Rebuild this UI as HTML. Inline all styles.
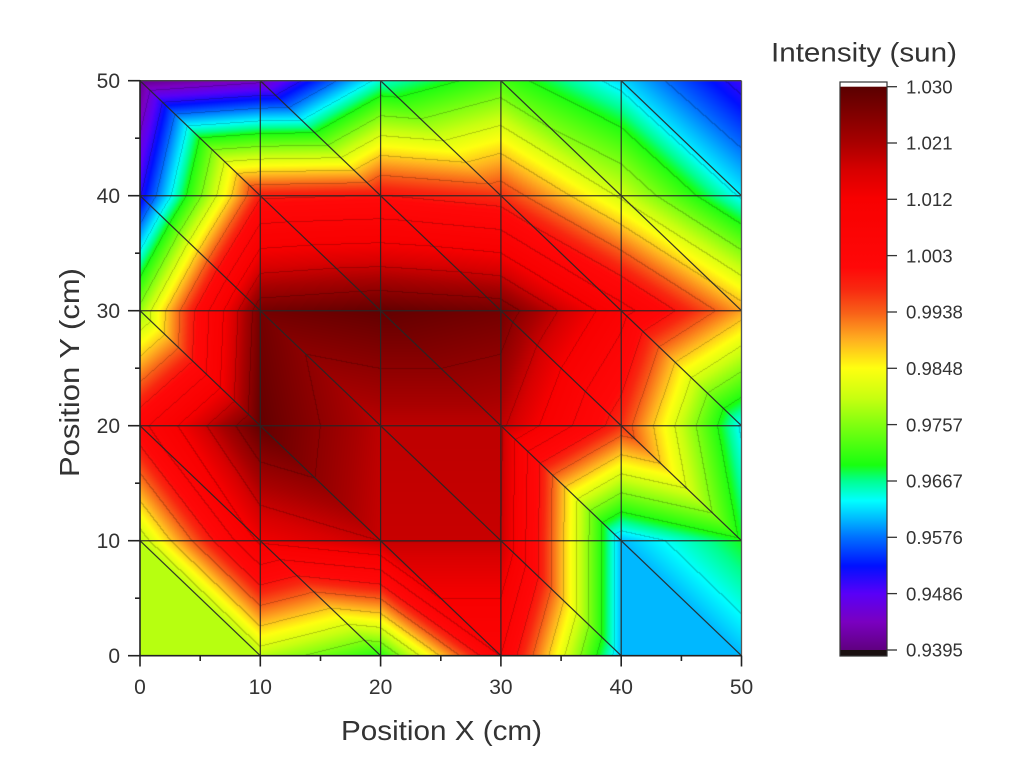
<!DOCTYPE html>
<html><head><meta charset="utf-8">
<style>
html,body{margin:0;padding:0;background:#fff;}
body{width:1010px;height:778px;position:relative;overflow:hidden;font-family:"Liberation Sans",Arial,sans-serif;}
#c{position:absolute;left:140px;top:81px;width:602px;height:575px;}
svg{position:absolute;left:0;top:0;}
text{font-family:"Liberation Sans",Arial,sans-serif;fill:#333;}
</style></head><body>
<canvas id="c" width="602" height="575"></canvas>
<svg width="1010" height="778" viewBox="0 0 1010 778" xmlns="http://www.w3.org/2000/svg">
<defs>
<linearGradient id="cb" x1="0" y1="0" x2="0" y2="1">
<stop offset="0" stop-color="#5a0000"/>
<stop offset="0.0994" stop-color="#a80000"/>
<stop offset="0.1492" stop-color="#d80000"/>
<stop offset="0.1989" stop-color="#f80000"/>
<stop offset="0.3204" stop-color="#ff0808"/>
<stop offset="0.3591" stop-color="#f82810"/>
<stop offset="0.4011" stop-color="#f86018"/>
<stop offset="0.4497" stop-color="#ffb020"/>
<stop offset="0.4994" stop-color="#ffff10"/>
<stop offset="0.5525" stop-color="#c8ff10"/>
<stop offset="0.6" stop-color="#80ff10"/>
<stop offset="0.6718" stop-color="#18ff10"/>
<stop offset="0.6994" stop-color="#00ff90"/>
<stop offset="0.7348" stop-color="#00ffff"/>
<stop offset="0.768" stop-color="#00b8ff"/>
<stop offset="0.8" stop-color="#0070ff"/>
<stop offset="0.8508" stop-color="#0010ff"/>
<stop offset="0.8994" stop-color="#5800f8"/>
<stop offset="0.9503" stop-color="#7a00c0"/>
<stop offset="1" stop-color="#600080"/>
</linearGradient>
</defs>

<!-- mesh lines -->
<g stroke="#262626" stroke-width="1.25" fill="none" opacity="0.9">
<line x1="260.3" y1="80.7" x2="260.3" y2="655.7"/>
<line x1="380.6" y1="80.7" x2="380.6" y2="655.7"/>
<line x1="500.9" y1="80.7" x2="500.9" y2="655.7"/>
<line x1="621.2" y1="80.7" x2="621.2" y2="655.7"/>
<line x1="140" y1="195.7" x2="741.5" y2="195.7"/>
<line x1="140" y1="310.7" x2="741.5" y2="310.7"/>
<line x1="140" y1="425.7" x2="741.5" y2="425.7"/>
<line x1="140" y1="540.7" x2="741.5" y2="540.7"/>
<line x1="140" y1="540.7" x2="260.3" y2="655.7"/>
<line x1="140" y1="425.7" x2="380.6" y2="655.7"/>
<line x1="140" y1="310.7" x2="500.9" y2="655.7"/>
<line x1="140" y1="195.7" x2="621.2" y2="655.7"/>
<line x1="140" y1="80.7" x2="741.5" y2="655.7"/>
<line x1="260.3" y1="80.7" x2="741.5" y2="540.7"/>
<line x1="380.6" y1="80.7" x2="741.5" y2="425.7"/>
<line x1="500.9" y1="80.7" x2="741.5" y2="310.7"/>
<line x1="621.2" y1="80.7" x2="741.5" y2="195.7"/>
</g>

<!-- frame -->
<line x1="140" y1="80.7" x2="741.5" y2="80.7" stroke="#444" stroke-width="1.3"/>
<line x1="741.5" y1="80.7" x2="741.5" y2="655.7" stroke="#555" stroke-width="1.3"/>
<g stroke="#222" stroke-width="1.6">
<line x1="140" y1="80" x2="140" y2="656.5"/>
<line x1="139.2" y1="655.7" x2="742" y2="655.7"/>
<line x1="140" y1="655.7" x2="140" y2="666.5"/>
<line x1="260.3" y1="655.7" x2="260.3" y2="666.5"/>
<line x1="380.6" y1="655.7" x2="380.6" y2="666.5"/>
<line x1="500.9" y1="655.7" x2="500.9" y2="666.5"/>
<line x1="621.2" y1="655.7" x2="621.2" y2="666.5"/>
<line x1="741.5" y1="655.7" x2="741.5" y2="666.5"/>
<line x1="200.2" y1="655.7" x2="200.2" y2="661"/>
<line x1="320.5" y1="655.7" x2="320.5" y2="661"/>
<line x1="440.8" y1="655.7" x2="440.8" y2="661"/>
<line x1="561.1" y1="655.7" x2="561.1" y2="661"/>
<line x1="681.4" y1="655.7" x2="681.4" y2="661"/>
<line x1="128" y1="80.7" x2="140" y2="80.7"/>
<line x1="128" y1="195.7" x2="140" y2="195.7"/>
<line x1="128" y1="310.7" x2="140" y2="310.7"/>
<line x1="128" y1="425.7" x2="140" y2="425.7"/>
<line x1="128" y1="540.7" x2="140" y2="540.7"/>
<line x1="128" y1="655.7" x2="140" y2="655.7"/>
<line x1="135" y1="138.2" x2="140" y2="138.2"/>
<line x1="135" y1="253.2" x2="140" y2="253.2"/>
<line x1="135" y1="368.2" x2="140" y2="368.2"/>
<line x1="135" y1="483.2" x2="140" y2="483.2"/>
<line x1="135" y1="598.2" x2="140" y2="598.2"/>
</g>

<g font-size="21" text-anchor="middle">
<text x="140" y="694">0</text>
<text x="260.3" y="694">10</text>
<text x="380.6" y="694">20</text>
<text x="500.9" y="694">30</text>
<text x="621.2" y="694">40</text>
<text x="741.5" y="694">50</text>
</g>
<g font-size="21" text-anchor="end">
<text x="120" y="88.2">50</text>
<text x="120" y="203.2">40</text>
<text x="120" y="318.2">30</text>
<text x="120" y="433.2">20</text>
<text x="120" y="548.2">10</text>
<text x="120" y="663.2">0</text>
</g>

<text x="341" y="740" font-size="28" textLength="201" lengthAdjust="spacingAndGlyphs">Position X (cm)</text>
<text x="0" y="0" font-size="28" textLength="209" lengthAdjust="spacingAndGlyphs" transform="translate(79,477) rotate(-90)">Position Y (cm)</text>

<text x="771" y="61.5" font-size="27" textLength="186" lengthAdjust="spacingAndGlyphs">Intensity (sun)</text>
<rect x="840" y="82" width="47" height="5" fill="#fff"/>
<rect x="840" y="86.7" width="47" height="563.3" fill="url(#cb)"/>
<rect x="840" y="650" width="47" height="6" fill="#1a1010"/>
<rect x="840" y="82" width="47" height="574" fill="none" stroke="#333" stroke-width="1.2"/>
<g stroke="#333" stroke-width="1.3">
<line x1="887" y1="86.7" x2="897" y2="86.7"/>
<line x1="887" y1="143" x2="897" y2="143"/>
<line x1="887" y1="199.3" x2="897" y2="199.3"/>
<line x1="887" y1="255.6" x2="897" y2="255.6"/>
<line x1="887" y1="312" x2="897" y2="312"/>
<line x1="887" y1="368.3" x2="897" y2="368.3"/>
<line x1="887" y1="424.6" x2="897" y2="424.6"/>
<line x1="887" y1="481" x2="897" y2="481"/>
<line x1="887" y1="537.3" x2="897" y2="537.3"/>
<line x1="887" y1="593.6" x2="897" y2="593.6"/>
<line x1="887" y1="650" x2="897" y2="650"/>
</g>
<g font-size="18.6">
<text x="906" y="93.4">1.030</text>
<text x="906" y="149.7">1.021</text>
<text x="906" y="206">1.012</text>
<text x="906" y="262.3">1.003</text>
<text x="906" y="318.7">0.9938</text>
<text x="906" y="375">0.9848</text>
<text x="906" y="431.3">0.9757</text>
<text x="906" y="487.7">0.9667</text>
<text x="906" y="544">0.9576</text>
<text x="906" y="600.3">0.9486</text>
<text x="906" y="656.7">0.9395</text>
</g>
</svg>
<script>
(function(){
var V=[
[0.979,0.979,0.970,1.006,0.9605,0.9605],
[0.979,1.013,1.018,1.018,0.9605,0.969],
[1.004,1.029,1.019,1.019,0.997,0.963],
[0.977,1.027,1.029,1.027,1.008,0.990],
[0.951,0.999,1.000,0.997,0.981,0.963],
[0.9405,0.9445,0.965,0.972,0.962,0.950]];
var S=[[0.9395,'600080'],[0.9440,'7a00c0'],[0.9486,'5800f8'],[0.9530,'0010ff'],[0.9576,'0070ff'],[0.9605,'00b8ff'],[0.9635,'00ffff'],[0.9667,'00ff90'],[0.9692,'18ff10'],[0.9757,'80ff10'],[0.9800,'c8ff10'],[0.9848,'ffff10'],[0.9893,'ffb020'],[0.9937,'f86018'],[0.9975,'f82810'],[1.0010,'ff0808'],[1.0120,'f80000'],[1.0165,'d80000'],[1.0210,'a80000'],[1.0300,'5a0000']];
var stops=S.map(function(s){var h=s[1];return [s[0],parseInt(h.substr(0,2),16),parseInt(h.substr(2,2),16),parseInt(h.substr(4,2),16)];});
function col(v){
  if(v<=stops[0][0])return [stops[0][1],stops[0][2],stops[0][3]];
  var n=stops.length;
  if(v>=stops[n-1][0])return [stops[n-1][1],stops[n-1][2],stops[n-1][3]];
  for(var k=0;k<n-1;k++){
    var a=stops[k],b=stops[k+1];
    if(v>=a[0]&&v<=b[0]){var t=(v-a[0])/(b[0]-a[0]);
      return [a[1]+(b[1]-a[1])*t,a[2]+(b[2]-a[2])*t,a[3]+(b[3]-a[3])*t];}
  }
  return [0,0,0];
}
var W=602,H=575;
var cv=document.getElementById('c');var ctx=cv.getContext('2d');
var img=ctx.createImageData(W,H);var d=img.data;
var vals=new Float32Array(W*H);
for(var py=0;py<H;py++){
  for(var px=0;px<W;px++){
    var X=(px+0.5)/601.5*50; if(X>50)X=50;
    var Y=50-(py+0.5)/575*50; if(Y<0)Y=0;
    var i=Math.min(4,Math.floor(X/10)), j=Math.min(4,Math.max(0,Math.floor(Y/10)));
    var u=(X-10*i)/10, w=(Y-10*j)/10;
    var v00=V[j][i],v10=V[j][i+1],v01=V[j+1][i],v11=V[j+1][i+1];
    var v=(u+w<=1)?(v00+u*(v10-v00)+w*(v01-v00)):(v11+(1-u)*(v01-v11)+(1-w)*(v10-v11));
    vals[py*W+px]=v;
  }
}
var step=0.0905/15;
for(var py=0;py<H;py++){
  for(var px=0;px<W;px++){
    var idx=py*W+px;var v=vals[idx];
    var c=col(v);
    var L=Math.floor((v-0.9395)/step);
    var edge=false;
    if(px<W-1&&Math.floor((vals[idx+1]-0.9395)/step)!==L)edge=true;
    if(py<H-1&&Math.floor((vals[idx+W]-0.9395)/step)!==L)edge=true;
    var f=edge?0.8:1;
    var o=idx*4;
    d[o]=c[0]*f;d[o+1]=c[1]*f;d[o+2]=c[2]*f;d[o+3]=255;
  }
}
ctx.putImageData(img,0,0);
})();
</script>
</body></html>
